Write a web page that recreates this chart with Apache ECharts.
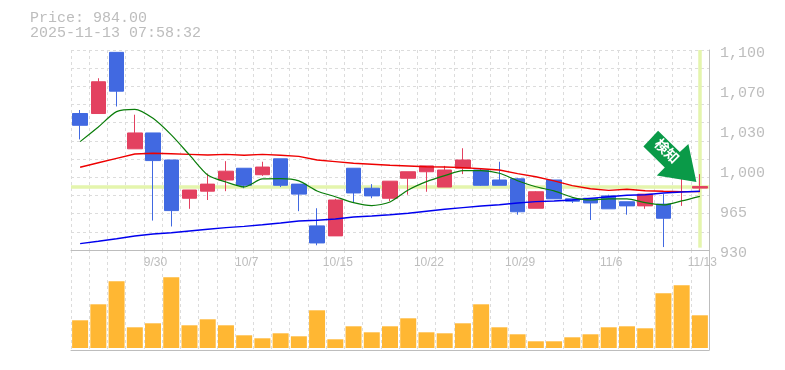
<!DOCTYPE html>
<html><head><meta charset="utf-8">
<style>html,body{margin:0;padding:0;background:#fff}#c{width:785px;height:370px}</style>
<script src="https://cdn.jsdelivr.net/npm/echarts@6/dist/echarts.min.js"></script>
</head><body><div id="c"></div>
<script>
const categories=['9/24','9/25','9/26','9/29','9/30','10/1','10/2','10/3','10/6','10/7','10/8','10/9','10/10','10/14','10/15','10/16','10/17','10/20','10/21','10/22','10/23','10/24','10/27','10/28','10/29','10/30','10/31','11/4','11/5','11/6','11/7','11/10','11/11','11/12','11/13'];
const opens=[1046,1046,1098,1016,1029.5,1006.5,974,980,989.5,999.5,994,1007.5,986,950.5,942,999.5,982.5,974,991,996.5,983.5,999.5,998,989.5,990.5,965.5,989.5,973.5,974,976,971,967.5,969,991.5,982.6];
const closes=[1036,1073,1065,1029.5,1006,963.5,981,986,997,985,1000.5,985,977.5,936,972.5,978.5,976,988.5,996.5,1001.5,998,1006.5,985,985,962.5,979.5,973.5,971.5,970,965,967.5,977.5,957,994,984];
const lows=[1024,1046,1052,1016,955,950,965,972.5,980,982.5,993,983.5,963,934,942,970,974,971.5,977,979.5,983.5,994.5,984.5,985,960,965.5,973.5,970,955.5,965,960,965,932.5,967.5,979.5];
const highs=[1049,1076,1098,1045,1029.5,1006.5,981,995,1005.5,999.5,1005,1007.5,986,965.5,973.5,999.5,986,988.5,996.5,1001.5,1001.5,1016.5,999.5,1005,991,980,989.5,973.5,974,977,971,977.5,977.5,994,994.5];
const maShort=[1022.1,1034.6,1047.6,1049.6,1041.9,1027.8,1010.8,993.8,987.8,983.6,990.4,990.6,988.7,980.2,975.3,970.2,967.7,970.8,981,988.1,993.2,997.4,997.4,995.2,988.9,983.8,980.2,974.8,972.5,973.4,973.4,970.2,968.3,971.7,975.6];
const maMid=[1000.3,1004.2,1007.9,1011.6,1012.2,1011.8,1011.3,1010.8,1011.3,1010.5,1011.3,1010.5,1009.6,1006.5,1005.1,1003.7,1002.9,1002,1001.4,1000.8,1000.6,1000,999.1,998,994.9,992.3,988.7,984.7,982.1,980.7,981.6,980.4,979.9,979.6,979.6];
const maLong=[935.4,937.4,939.6,941.9,943.6,944.7,946.2,947.6,949,950.1,951.5,953,954.7,955.3,956.4,958,958.9,960,961.2,962.9,964.6,966,967.4,968.5,970,971.1,971.7,972.5,973.9,975.3,976.5,977,978.5,979.3,979.9];
const volumes=[27700,43700,66700,20700,24700,70700,22700,28700,22700,12700,9700,14700,11700,37700,8700,21700,15700,21700,29700,15700,14700,24700,43700,20700,13700,6700,6700,10700,13700,20700,21700,19700,54700,62700,32700];
const priceTicks=[930,964,998,1032,1066,1100];
const priceTickLabels=['930','965','1,000','1,030','1,070','1,100'];
const lastPrice=984;
const stamp='2025-11-13 07:58:32';
const signalText='検知';

const GRAY='#bdbdbd', GRID='#dcdcdc', HILITE='#e4f5ad';
const mono='"Liberation Mono", monospace';
const ohlc=categories.map((_,i)=>[opens[i],closes[i],lows[i],highs[i]]);
const last=categories[categories.length-1];
const arrow='path://M0.3 15.7 L15 0 L36.7 21.3 L45.3 13.3 L53.3 51.3 L13.7 44.7 L21.7 36.7 Z';

const xBase={type:'category',data:categories,boundaryGap:true,
  axisTick:{show:false},
  axisLine:{show:true,onZero:false,lineStyle:{color:GRAY,width:1}},
  splitLine:{show:true,interval:0,lineStyle:{color:GRID,type:[3,3],width:1}}};

const chart=echarts.init(document.getElementById('c'),null,{renderer:'canvas'});
chart.setOption({
  animation:false,backgroundColor:'#fff',
  title:{text:'Price: '+lastPrice.toFixed(2)+'\n'+stamp,left:30,top:11,padding:0,
    textStyle:{fontFamily:mono,fontSize:15,fontWeight:'normal',color:GRAY,lineHeight:15}},
  grid:[{left:71,right:76,top:50,height:200},{left:71,right:76,top:250,height:100}],
  xAxis:[
    Object.assign({},xBase,{gridIndex:0,axisLabel:{show:true,interval:(i)=>i%5===4,margin:7,hideOverlap:false,
      color:GRAY,fontFamily:'"Liberation Sans", sans-serif',fontSize:12,padding:[0,0,0,5]}}),
    Object.assign({},xBase,{gridIndex:1,axisLabel:{show:false}})
  ],
  yAxis:[
    {type:'value',gridIndex:0,position:'right',min:930,max:1100,scale:true,
      axisLine:{show:true,lineStyle:{color:GRAY}},axisTick:{show:false},splitLine:{show:false},
      axisLabel:{show:true,customValues:priceTicks,margin:11,color:GRAY,fontFamily:mono,fontSize:15,verticalAlign:'top',lineHeight:7,
        formatter:(v)=>priceTickLabels[priceTicks.indexOf(v)]}},
    {type:'value',gridIndex:1,position:'right',min:-2000,max:98000,
      axisLine:{show:true,lineStyle:{color:GRAY}},axisTick:{show:false},axisLabel:{show:false},splitLine:{show:false}},
    {type:'value',gridIndex:0,position:'left',min:0,max:11,interval:1,
      axisLine:{show:false},axisTick:{show:false},axisLabel:{show:false},
      splitLine:{show:true,lineStyle:{color:GRID,type:[3,3],width:1}}}
  ],
  series:[
    {type:'scatter',xAxisIndex:0,yAxisIndex:0,data:[],z:1,silent:true,
      markLine:{silent:true,z:1,symbol:'none',animation:false,label:{show:false},
        lineStyle:{color:HILITE,width:3.5,type:'solid'},
        data:[{yAxis:lastPrice},[{xAxis:last,yAxis:932},{xAxis:last,yAxis:1100}]]}},
    {type:'candlestick',xAxisIndex:0,yAxisIndex:0,data:ohlc,barWidth:15,z:3,
      itemStyle:{color:'#e34160',borderColor:'#e34160',color0:'#4169e1',borderColor0:'#4169e1',borderWidth:1}},
    {type:'line',xAxisIndex:0,yAxisIndex:0,data:maMid,showSymbol:false,z:4,lineStyle:{color:'#ee0000',width:1.4}},
    {type:'line',xAxisIndex:0,yAxisIndex:0,data:maLong,showSymbol:false,z:4,lineStyle:{color:'#0000ee',width:1.4}},
    {type:'line',xAxisIndex:0,yAxisIndex:0,data:maShort,showSymbol:false,smooth:0.25,z:4,lineStyle:{color:'#0a7d0a',width:1.2},
      markPoint:{silent:true,animation:false,z:10,
        data:[{coord:[last,lastPrice],symbol:arrow,symbolSize:[53,51.3],symbolKeepAspect:false,symbolOffset:[-30,-30],
          itemStyle:{color:'#0a9a48'},
          label:{show:true,position:'inside',formatter:signalText,rotate:-45,offset:[-6,-2],color:'#fff',
            fontFamily:'"Noto Sans CJK JP"',fontWeight:'bold',fontSize:14}}]}},
    {type:'bar',xAxisIndex:1,yAxisIndex:1,data:volumes,barWidth:16,z:3,itemStyle:{color:'#ffb733'}}
  ]
});
</script></body></html>
